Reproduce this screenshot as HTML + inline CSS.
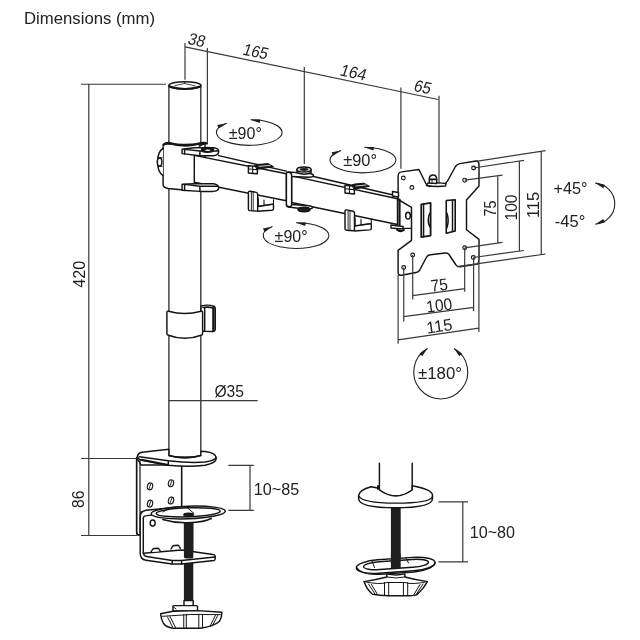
<!DOCTYPE html>
<html><head><meta charset="utf-8">
<style>
html,body{margin:0;padding:0;background:#fff;width:640px;height:640px;overflow:hidden}
svg{display:block;will-change:transform}
text{font-family:"Liberation Sans",sans-serif;fill:#222}
.d{stroke:#3a3a3a;stroke-width:1.2;fill:none}
.o{stroke:#141414;stroke-width:1.45;fill:none;stroke-linejoin:round;stroke-linecap:round}
.w{stroke:#141414;stroke-width:1.45;fill:#fff;stroke-linejoin:round}
.k{fill:#1e1e1e;stroke:none}
</style></head>
<body>
<svg width="640" height="640" viewBox="0 0 640 640">
<rect width="640" height="640" fill="#fff"/>


<!-- ===== POLE ===== -->
<g class="o">
<path class="w" d="M168.9 85.4V457H200.8V85.4Z" style="stroke:#3a3a3a;stroke-width:1.4"/>
<ellipse cx="184.9" cy="85.4" rx="16" ry="3.7" fill="#fff"/>
<path d="M169.5 86.5Q184.9 91.5 200.3 86.5" stroke-width="2.2"/>
<path d="M175 85.6L184.5 83.5L195 85.8M184.5 83.5L185 81.8" stroke-width="0.8"/>
</g>


<!-- ===== COLLAR + ARM1 ===== -->
<g class="o">
<!-- collar body -->
<path class="w" d="M163.1 146Q163.5 144.2 166 143.8Q185 145.5 205 143.5L205 190Q185 190.8 168 188.5Q163.1 187.2 163.1 185Z"/>
<path d="M163.5 144.6Q165.5 143 168.7 142.8Q185 148.2 201 143.2Q204 142.4 207 143.3" stroke-width="2.3"/>
<path d="M199.5 145.8L205 142.8" stroke-width="2"/>
<!-- side knob -->
<path class="w" d="M163.1 148.5C155.8 152.5 155.8 171.5 163.1 175.5" stroke-width="1.7"/><path d="M158 157.3L162.5 157.8M158 166.8L162.5 166.3" stroke-width="0.8"/>
<ellipse cx="159.6" cy="162" rx="2.3" ry="4" stroke-width="1.5" fill="#fff"/>
<!-- arm1 -->
<path class="w" d="M194.3 155.4L286.4 173.8V200.8L194.3 182.3Z"/>
<path d="M218.7 155.6L286.4 171.1"/>
<!-- upper bracket plate -->
<path class="w" d="M182.1 149.2L194.3 147.7H213.5Q218.7 148.2 218.7 151.5Q218.7 155.5 213 155.8L200 155.8L182.1 153.6Z"/>
<path d="M184.6 149.4V153.8M199.9 151V155.8M184.6 149.4L199.9 151H218.5"/>
<ellipse cx="207.5" cy="149.9" rx="6" ry="2.3" fill="#141414"/>
<ellipse cx="207.8" cy="150.2" rx="2.8" ry="0.8" fill="#fff" stroke="none"/>
<!-- lower bracket plate -->
<path class="w" d="M182.1 184.2L195.3 183.7L205.5 183.7H213.5Q218.7 184.5 218.7 188Q218.7 191 213 191.4L200 191.4L182.1 190.3Z"/>
<path d="M184.6 184.4V190.4M199.9 186.2V191.4M184.6 184.4L199.9 186.2H218"/>
</g>
<!-- ===== MID JOINT + ARM2 ===== -->
<g class="o">
<path class="w" d="M291.6 175.9L397.5 198.75V224.5L291.6 202.5Z"/>
<path d="M313.5 176.5L397.5 196"/>
<!-- bracket -->
<path class="w" d="M288 172L310 173.5Q313.5 174.2 313.5 175.6Q313.3 177 309 177.2L292 176.5"/>
<path class="w" d="M292 204.5L309 205.8Q312.5 206.5 312.5 207.8Q311.5 209.2 306 209.2L288.5 207Q286.4 206.5 286.4 204.5"/>
<path class="w" d="M286.4 173.8Q286.4 172 288 172Q291.6 172.5 291.6 175V204.5Q291.6 206.8 289.5 206.8Q286.4 206.5 286.4 204.5Z"/>
<path class="w" d="M297 169.5V172.8Q304 175.5 311 172.8V169.5"/>
<ellipse cx="304" cy="169.5" rx="7" ry="2.5" fill="#fff"/>
<ellipse cx="304" cy="169.5" rx="4.5" ry="1.4" fill="#1e1e1e" stroke="none"/>
<ellipse cx="304" cy="209.5" rx="6" ry="2.3" fill="#1e1e1e"/>
</g>
<!-- clips arm1 -->
<g class="o">
<path class="w" d="M248.4 165.7L257.4 166.5V173.8L248.4 173Z"/>
<path d="M252.7 166V173.4M248.6 169L257.2 169.6" stroke-width="1.1"/>
<path d="M255 165.2L258 164.4L268 163.6L273.5 166.7L257.4 169.3Z" fill="#141414" stroke-width="1"/>
<path d="M259 166.4L270 165.4" stroke="#fff" stroke-width="0.8"/>
<path class="w" d="M257.7 197.5V206.5L272 204.3Q273.5 204 273.5 205.5V208.5Q273.5 210 272 210.2L257.7 211.2"/>
<path d="M273.5 199.7V204.5M258.2 198.8V206.5M264 200V205.6M258.2 206.3L272.5 204.2" stroke-width="1.1"/>
<path class="w" d="M248.4 192.6Q248.4 191 250 191.2L256.2 192.4Q257.7 192.8 257.7 194.3V209.7Q257.7 211.2 256 211.1L250 210.6Q248.4 210.4 248.4 208.9Z"/>
<path d="M251.4 192V210.6M253.2 192.2V210.8" stroke-width="0.9"/>
</g>
<!-- clips arm2 -->
<g class="o">
<path class="w" d="M345 185.3L354.4 186.3V194L345 193Z"/>
<path d="M349.5 185.8V193.5M345.2 188.8L354.2 189.6" stroke-width="1.1"/>
<path d="M352 184.8L355 184L364 183.2L369.5 186.3L354.4 189.2Z" fill="#141414" stroke-width="1"/>
<path d="M356 186L366 185" stroke="#fff" stroke-width="0.8"/>
<path class="w" d="M354.5 216.5V226L369.8 223.8Q371.3 223.5 371.3 225V228.2Q371.3 229.7 369.8 229.9L354.5 231"/>
<path d="M371.3 219V224M355 218V226M361 219.2V225M355 225.8L370.3 223.7" stroke-width="1.1"/>
<path class="w" d="M345 211.3Q345 209.7 346.6 209.9L353 211.2Q354.5 211.6 354.5 213.1V229.3Q354.5 230.8 352.8 230.7L346.6 230.2Q345 230 345 228.5Z"/>
<path d="M348.1 210.7V230.3M350 211V230.5" stroke-width="0.9"/>
</g>


<!-- ===== VESA PLATE ===== -->
<g class="o">
<path class="w" stroke-width="1.3" d="M398.1 199.5V176Q398.1 172.3 401.7 171.9L418.9 169.5L426 183.8Q427.5 186.8 430.5 186.4L443.5 184.1Q446.25 183.6 447.5 181L455.5 166.5Q457.2 164 460 163.6L476 161Q479 161 479 164.5V186L466.5 200V229.7L479 239.4V259.7Q479 264 476 264.4L460 266.7Q457.2 267 456 265L449 254.5Q447.8 252.7 445 253L430.5 254.8Q427.5 255 426.3 257.5L419.5 270.5Q418.1 272.2 416 272.5L401.5 275.3Q398.1 275.5 398.1 272.2V250.3L411.5 240.3V207.3Z"/>
<g stroke-width="1.1">
<circle cx="403.3" cy="178" r="1.9"/><circle cx="411.9" cy="187.5" r="1.9"/>
<circle cx="473.6" cy="168" r="1.9"/><circle cx="464.7" cy="180.2" r="1.9"/>
<circle cx="464.7" cy="247.8" r="1.9"/><circle cx="473.3" cy="257.5" r="1.9"/>
<circle cx="403.75" cy="267.5" r="1.9"/><circle cx="412.7" cy="255" r="1.9"/>
</g>
<!-- slots -->
<path stroke-width="1.8" d="M421.25 204.4L430.6 202.8V235.6L421.25 237.2Z"/>
<path d="M423.6 204.2V236.8"/>
<path d="M430 213Q426.5 220 430 227" stroke-width="1.6"/>
<path stroke-width="1.6" d="M446.25 200.5L455.2 199.7V230.9L446.25 233.3Z"/>
<path d="M452.5 200.2V231.5"/>
<path d="M446.8 213Q449.5 220.5 446.8 228" stroke-width="1.5"/>
<!-- tilt bracket -->
<path d="M399.5 199.5V228.5" stroke-width="2.2"/>
<path d="M398.1 228.4H411.5" stroke-width="1.1"/>
<ellipse cx="408" cy="215.7" rx="2.3" ry="3.4" fill="#fff"/>
<path class="w" d="M392.5 191.5L398.5 192.5V197L392.5 196Z"/>
<path class="w" d="M391 225L403 226.5V229L391 228Z"/>
<path d="M397 229.5Q400 232.5 404 230" stroke-width="2"/>
<!-- top bolt on plate notch -->
<path class="w" d="M426.5 185.5L428 183Q436 182 446 183.6L445.5 186Q436 187 426.5 185.5Z" stroke-width="1.2"/>
<path class="w" d="M429.3 183V179.5H436.7V183.5Z" stroke-width="1.3"/>
<path class="w" d="M429.3 179.3Q429.3 175 433 175Q436.7 175 436.7 179.3Z" stroke-width="1.3"/>
<path d="M432 179.5V183.3" stroke-width="0.9"/>
</g>


<!-- ===== VESA DIMS ===== -->
<g class="d">
<path d="M464.7 180.2L502.5 175.2M497.8 175.6V242.7M464.7 247.8L502.5 242.3"/>
<path d="M473.6 168L524 160.3M519.4 161V251.2M473.3 257.5L524 250.5"/>
<path d="M476 161.3L545.6 150.6M541.25 151.2V254.5M457 266.6L545.6 254"/>
<path d="M412.7 255V299.5M464.7 248V291.7M412.7 295.6L465 288.6"/>
<path d="M403.75 267.5V321.4M473.6 258V311.25M403.75 316.7L473.6 307.3"/>
<path d="M398.1 275V343.75M478.9 262V332M398.1 339.8L478.75 328.1"/>
</g>
<g font-size="16.7" text-anchor="middle">
<text transform="translate(496 208.5) rotate(-90)" textLength="16" lengthAdjust="spacingAndGlyphs">75</text>
<text transform="translate(517 207.5) rotate(-90)" textLength="26" lengthAdjust="spacingAndGlyphs">100</text>
<text transform="translate(538.8 205) rotate(-90)" textLength="26" lengthAdjust="spacingAndGlyphs">115</text>
<text transform="translate(440 290.7) rotate(-7.7)" textLength="17" lengthAdjust="spacingAndGlyphs">75</text>
<text transform="translate(440 311) rotate(-7.7)" textLength="26" lengthAdjust="spacingAndGlyphs">100</text>
<text transform="translate(440 331.8) rotate(-8.2)" textLength="26" lengthAdjust="spacingAndGlyphs">115</text>
</g>


<!-- ===== CABLE RING ===== -->
<g class="o">
<path class="w" d="M201 306Q208 304 214.5 306.5Q215.3 307.5 215.3 309V329.5Q215 331.5 213 331.5L204.7 331.3L201 331Z"/>
<path d="M204.7 308.3V331.3M213.3 308.5V331.3" />
<path d="M213.5 307V331" stroke-width="2.2"/>
<path d="M203 307.5Q208 306.5 213 308" stroke-width="1.6"/>
<path class="w" d="M166.9 312.5Q166.9 311 168.5 311.2Q184.7 316 201 311.2Q202.6 311 202.6 312.5V333.8Q202.6 335 201 335.2Q184.7 341.5 168.5 335.2Q166.9 335 166.9 333.8Z"/>
</g>


<!-- ===== CLAMP ===== -->
<g class="o">
<!-- back plate -->
<path class="w" d="M136.6 457.5V532Q136.6 535 139 535L141 535V512L181.6 507V465H141Z" stroke="none"/>
<path d="M136.6 457.5V532Q136.6 535 139 535H140.5" stroke-width="1.3"/><path d="M181.6 465V507" stroke-width="1.2"/>
<path d="M140 458.5V533" stroke-width="1.2"/>
<!-- holes -->
<g stroke-width="1.1">
<ellipse cx="150" cy="486.4" rx="2.6" ry="3.5" transform="rotate(15 150 486.4)"/>
<ellipse cx="171" cy="483.3" rx="2.6" ry="3.5" transform="rotate(15 171 483.3)"/>
<ellipse cx="150" cy="503.6" rx="2.6" ry="3.5" transform="rotate(15 150 503.6)"/>
<ellipse cx="171" cy="500.5" rx="2.6" ry="3.5" transform="rotate(15 171 500.5)"/>
<path d="M149 489L151 483.5M170 486L172 480.5M149 506.3L151 500.8M170 503.2L172 497.7" stroke-width="0.9"/>
</g>
<!-- top plate -->
<path class="w" d="M137.5 456Q138.5 452.8 142 452.3L168.9 449.3V455.5Q184.9 460 200.8 455.5V451.3L205 451.5Q216 452.8 216.3 458Q216.5 463 205 465.2Q190 467.2 168.3 465.3L143 460.5Q137.5 459.5 137.5 456Z"/>
<path d="M139.4 456.7L168.3 460.8Q190 463.3 205 462Q215 460.5 216 457.5"/>
<path d="M168.3 460.8V465.3"/>
<path d="M141.5 459.8L168.3 465" stroke-width="1.9"/>
<path d="M168.9 455.5Q184.9 460 200.8 455.5" stroke-width="1.3"/>
</g>
<!-- screw -->
<rect class="k" x="183.9" y="514" width="9.4" height="86.6"/>
<g class="o">
<!-- lower C -->
<path class="w" d="M180.8 507L146 510.2Q140.2 511.5 140.2 517V553Q140.2 559.5 146 560.2L172.2 564H181.6L214 560.5Q215.2 560.2 215.2 558.5V556Q215 554.7 213 554.5L181.6 550L143.3 553.2V518Q143.3 515.8 147 515.6L180.8 511.5Z"/>
<path d="M143.3 553.2Q144 556.2 146.5 556.5L172.2 560.5H181.6L215 557M172.2 560.5V564M181.6 560.5V564"/>
<path class="w" d="M151 552L152.5 549.5Q153.3 548.6 154.5 548.5L157.5 548.3Q158.7 548.3 159.2 549.3L160.3 551.3" stroke-width="1.1"/><path class="w" d="M171 549L172.5 546.5Q173.3 545.6 174.5 545.5L177.5 545.3Q178.7 545.3 179.2 546.3L180.3 548.3" stroke-width="1.1"/>
</g>
<rect class="k" x="183.9" y="521" width="9.4" height="36"/>
<ellipse class="k" cx="188.6" cy="557" rx="4.7" ry="1.5"/>
<g class="o">
<!-- pad -->
<path class="w" d="M162.8 519.5Q175 523.2 187.8 522.8Q205 522 211.3 518.5"/>
<ellipse class="w" cx="188.2" cy="512.5" rx="37.1" ry="6.3" transform="rotate(-2 188.2 512.5)"/>
<ellipse cx="188.2" cy="512.3" rx="32" ry="4.5" transform="rotate(-2 188.2 512.3)" stroke-width="1.5"/>
<path d="M163 512L170 507.5L186 506.5L194 513.5" stroke-width="1"/>
<ellipse cx="188.6" cy="514.8" rx="4.7" ry="1.6" fill="#1e1e1e"/>
<ellipse cx="152.7" cy="523.1" rx="2.5" ry="3.1"/>
</g>
<g class="o">
<rect class="w" x="184" y="600.6" width="9.2" height="5"/>
<path class="w" d="M173 606.5Q173 605.6 174 605.6H196.5Q197.5 605.6 197.5 606.5V611H173Z"/>
<path class="w" d="M160.6 613.8L173 611.2L197.5 610.6L221.9 612.3Q222 617 219.5 621.3Q214 626.5 200 628.3H173Q166 627 163.5 623.5Q161 619 160.6 613.8Z"/>
<path d="M162.3 616.3Q190 613.5 220.3 614.6M183.75 614.5V628.2M186.3 614.4V628.2M198.8 614.2V628.2M202.5 614.2V628M167.5 616.9L172.5 627M170 616.6L175.5 627.5M218 615L212.5 625.6M215.5 615L210 626.5" stroke-width="1"/>
<path d="M173 606.5L176 609" stroke-width="1"/>
</g>


<!-- ===== GROMMET ===== -->
<rect class="k" x="390.9" y="505" width="9.8" height="64"/>
<g class="o">
<path class="w" d="M379.4 463.3V490Q395.8 502 412.2 490V463.3"/>
<path class="w" d="M358.6 495.3Q359.5 490 371 486.8L376.5 487.8Q378 488.5 379.4 488.6V490Q395.8 502 412.2 490V485.8Q432.5 489.5 432.5 495.3V498.5Q432.5 507.8 395.5 507.8Q358.6 507.8 358.6 498.5Z"/>
<path d="M358.8 496Q362 503 395.5 503.2Q430 503 432.3 497" stroke-width="1.3"/>
<path d="M378 486V489" stroke-width="2"/>
</g>
<g class="o">
<rect class="w" x="356.2" y="558.6" width="79" height="13.4" rx="22" ry="6.7" transform="rotate(-4 395.7 565.3)"/>
<path d="M357 568Q362 575.5 380 574.3L414 572Q432 570 435.2 563" stroke-width="1.3"/>
<rect x="363.5" y="560.6" width="65" height="7.8" rx="16" ry="3.9" transform="rotate(-4 396 564.5)" stroke-width="1.4"/>
<path d="M372 561L374.5 567.5M406 558L408.5 563" stroke-width="1"/>
</g>
<rect class="k" x="390.9" y="553" width="9.8" height="15.3"/>
<g class="o">
<path class="w" d="M386.8 573.9V577Q375 580 364 581.6Q367 590 372.5 594.3Q380 595.7 388 595.7H409Q416 595.7 417.5 594.3Q424 588 427.4 581.6Q416 580 404.9 577V573.9Q395.8 576 386.8 573.9Z"/>
<path d="M364 581.6Q380 585 386.8 582.5H404.9Q412 585 427.4 581.6M384.5 582.5V595.5M388.7 582.5V595.7M403.4 582.5V595.7M407.7 582.5V595.5M368.5 584L375 594M371.5 584.5L377.5 594.5M423 584L416.5 594M420 584.5L414 594.5" stroke-width="1"/>
<path d="M386.8 577Q395.8 579 404.9 577" stroke-width="1"/>
</g>

<!-- title -->
<text x="24" y="23.8" font-size="16.7" textLength="131" lengthAdjust="spacingAndGlyphs">Dimensions (mm)</text>

<!-- 420 / 86 dims -->
<g class="d">
<path d="M81 84.25H166M88.8 84.25V535.5M81 458.5H137M81 535.5H137"/>
</g>
<text transform="translate(84.8 274.2) rotate(-90)" font-size="16.7" text-anchor="middle" textLength="27" lengthAdjust="spacingAndGlyphs">420</text>
<text transform="translate(84.4 499.3) rotate(-90)" font-size="16.7" text-anchor="middle" textLength="17.5" lengthAdjust="spacingAndGlyphs">86</text>

<!-- top dims -->
<g class="d">
<path d="M185 46.9L438.25 99.5"/>
<path d="M185 43.1V79.75M207.4 48V142.5M304.3 67V164M400.9 87.5V168.7M439 95.75V184"/>
</g>
<g font-size="16.7" text-anchor="middle">
<text transform="translate(195 45.5) rotate(11.7) skewX(-7)" textLength="17" lengthAdjust="spacingAndGlyphs">38</text>
<text transform="translate(254 57) rotate(11.7) skewX(-7)" textLength="25" lengthAdjust="spacingAndGlyphs">165</text>
<text transform="translate(351.8 78) rotate(11.7) skewX(-7)" textLength="26" lengthAdjust="spacingAndGlyphs">164</text>
<text transform="translate(421 92.5) rotate(11.7) skewX(-7)" textLength="17" lengthAdjust="spacingAndGlyphs">65</text>
</g>

<!-- rotation ellipses -->
<g class="d" style="stroke:#222;stroke-width:1.1">
<path d="M226.7 123.2A32.8 12.8 0 1 0 250.6 119.7"/>
<path d="M341.1 150.4A33 12.8 0 1 0 364.3 147.2"/>
<path d="M272.5 226.6A32.9 12.9 0 1 0 296.1 222.7"/>
</g>
<g class="k">
<path d="M226.7 123.2L218.7 128.6L217.2 125.1Z"/>
<path d="M250.6 119.7L260.3 119.4L259.7 123.1Z"/>
<path d="M341.1 150.4L333.1 155.8L331.6 152.3Z"/>
<path d="M364.3 147.2L374.0 146.9L373.4 150.6Z"/>
<path d="M272.5 226.6L264.5 232.0L263.0 228.5Z"/>
<path d="M296.1 222.7L305.8 222.4L305.2 226.1Z"/>
</g>
<g font-size="16.7">
<text x="228.8" y="138.7" textLength="33" lengthAdjust="spacingAndGlyphs">±90°</text>
<text x="343.2" y="165.9" textLength="33.8" lengthAdjust="spacingAndGlyphs">±90°</text>
<text x="274.6" y="241.6" textLength="33" lengthAdjust="spacingAndGlyphs">±90°</text>
</g>

<!-- +45 / -45 -->
<text x="553.6" y="193.6" font-size="16.7" textLength="34" lengthAdjust="spacingAndGlyphs">+45°</text>
<text x="554.7" y="227.2" font-size="16.7" textLength="30.6" lengthAdjust="spacingAndGlyphs">-45°</text>
<path class="d" style="stroke:#222;stroke-width:1.1" d="M595.2 183.1A21 20.6 0 0 1 595.2 224.2"/>
<g class="k">
<path d="M595.2 183.1L604.8 184.7L603.4 188.3Z"/>
<path d="M595.2 224.2L603.4 219.0L604.8 222.6Z"/>
</g>

<!-- ±180 -->
<path class="d" style="stroke:#222;stroke-width:1.1" d="M427.5 348.4A27 27 0 1 0 454 348.4"/>
<g class="k">
<path d="M427.6 348.2L422.2 356.3L419.5 353.6Z"/>
<path d="M453.9 348.2L462.0 353.6L459.3 356.3Z"/>
</g>
<text x="418" y="379" font-size="16.7" textLength="44" lengthAdjust="spacingAndGlyphs">±180°</text>

<!-- O35 -->
<path class="d" d="M168.4 400.6H257.7"/>
<text x="214.4" y="397" font-size="16.7" textLength="29.6" lengthAdjust="spacingAndGlyphs">Ø35</text>

<!-- 10~85 -->
<path class="d" d="M228.4 465.3H253.8M250 465.3V510.4M228.4 510.4H253.8"/>
<text x="253.8" y="495.3" font-size="16.7" textLength="45.4" lengthAdjust="spacingAndGlyphs">10~85</text>

<!-- 10~80 -->
<path class="d" d="M438.4 501.9H468M462.8 501.9V561.9M438.4 561.9H468"/>
<text x="469.7" y="538.4" font-size="16.7" textLength="45.3" lengthAdjust="spacingAndGlyphs">10~80</text>

</svg>
</body></html>
